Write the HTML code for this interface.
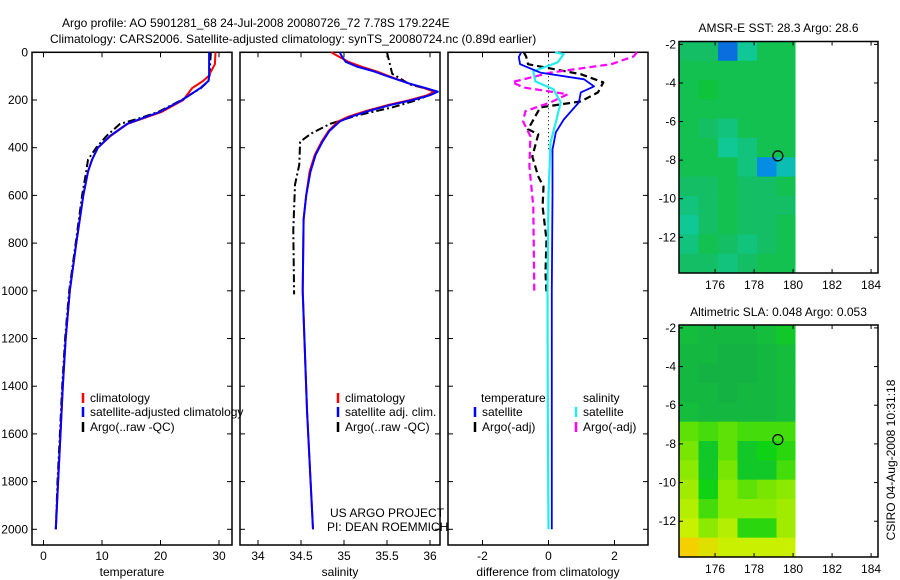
<!DOCTYPE html>
<html><head><meta charset="utf-8"><style>
body{margin:0;background:#fff;}
svg{display:block;font-family:"Liberation Sans",sans-serif;font-size:12px;}
</style></head><body>
<svg id="fig" width="900" height="580" viewBox="0 0 900 580">
<text x="62" y="27">Argo profile: AO 5901281_68 24-Jul-2008 20080726_72 7.78S 179.224E</text>
<text x="50" y="43">Climatology: CARS2006. Satellite-adjusted climatology: synTS_20080724.nc (0.89d earlier)</text>
<g id="g1"></g>
<g id="g2"></g>
<g id="g3"></g>
<g id="m1"></g>
<g id="m2"></g>
<text x="330" y="517">US ARGO PROJECT</text>
<text x="327" y="531">PI: DEAN ROEMMICH</text>
<text transform="translate(895,460) rotate(-90)" text-anchor="middle">CSIRO 04-Aug-2008 10:31:18</text>
</svg>
<script>
// ---- data ----
const depthT = [0,50,100,120,150,200,250,280,300,350,400,450,500,600,800,1000,1200,1400,1600,1800,2000];
const argoT  = [28.3,28.3,28.3,28.2,26.8,23.7,19.9,16.5,14.3,11.4,9.3,8.3,7.6,6.8,5.6,4.5,3.8,3.3,2.9,2.5,2.1];
const climT  = [29.4,29.3,28.2,27.3,25.4,23.9,20.2,16.7,14.4,11.5,9.3,8.3,7.6,6.8,5.6,4.5,3.8,3.3,2.9,2.5,2.1];
const rawT   = [28.6,28.5,28.4,28.2,26.9,23.6,19.6,16.0,13.1,10.8,9.0,7.6,7.3,6.6,5.5,4.4,3.7,3.2,2.8,2.4,2.1];
const depthS = [0,20,40,60,80,100,130,150,165,180,200,220,248,270,290,330,375,430,500,600,700,1000,1500,2000];
const argoS  = [34.95,34.98,35.02,35.15,35.35,35.5,35.75,35.95,36.09,36.0,35.8,35.55,35.27,35.08,34.95,34.83,34.75,34.67,34.61,34.56,34.53,34.52,34.57,34.64];
const climS  = [34.85,34.95,35.05,35.2,35.38,35.52,35.75,35.93,36.05,35.97,35.77,35.52,35.24,35.05,34.93,34.82,34.74,34.66,34.6,34.56,34.53,34.52,34.57,34.64];
const depthRawS = [0,90,135,165,200,230,265,300,340,375,470,555,745,1015];
const rawS   = [35.5,35.56,35.77,36.09,35.85,35.57,35.15,34.84,34.62,34.49,34.48,34.43,34.41,34.42];
const depthDT = [0,20,50,85,113,143,168,210,282,336,408,600,1000,1500,2000];
const satDT   = [-0.83,-0.9,-0.86,-0.25,1.08,1.38,0.98,0.92,0.46,0.22,0.12,0.12,0.1,0.1,0.1];
const depthDS = [0,8,42,80,122,155,210,294,378,600,1000,1500,2000];
const satDS   = [0.2,0.46,0.28,-0.46,-0.4,0.15,0.37,0.22,0.06,0.0,-0.03,-0.02,0.0];
const depthAS = [0,17,50,85,125,147,176,210,247,290,352,478,647,1004];
const argoDS  = [2.68,2.58,1.9,0.06,-1.1,-0.77,0.58,0.06,-0.7,-0.77,-0.55,-0.58,-0.46,-0.43];
const depthAT = [0,17,50,92,126,168,206,231,323,344,437,521,563,647,786,924,1008];
const argoDT  = [-0.75,-0.68,-0.62,0.98,1.66,1.5,0.98,-0.25,-0.62,-0.31,-0.49,-0.31,-0.15,-0.18,-0.06,-0.09,-0.06];
const depthTicks = [0,200,400,600,800,1000,1200,1400,1600,1800,2000];
const tTicks = [0,10,20,30];
const sTicks = [34,34.5,35,35.5,36];
const dTicks = [-2,0,2];
const sstGrid = [
 [28.4,28.4,27.7,28.2,28.5,28.5],
 [28.5,28.5,28.5,28.5,28.5,28.5],
 [28.5,28.6,28.5,28.5,28.5,28.5],
 [28.5,28.5,28.5,28.5,28.5,28.5],
 [28.5,28.4,28.3,28.5,28.5,28.5],
 [28.5,28.5,28.2,28.3,28.5,28.5],
 [28.5,28.5,28.5,28.3,27.8,28.1],
 [28.4,28.4,28.5,28.4,28.4,28.5],
 [28.3,28.4,28.5,28.4,28.4,28.4],
 [28.2,28.4,28.5,28.4,28.4,28.5],
 [28.3,28.5,28.4,28.3,28.4,28.5],
 [28.4,28.4,28.3,28.4,28.5,28.5]];
const slaGrid = [
 [0.03,0.02,0.02,0.02,0.03,0.04],
 [0.02,0.02,0.01,0.01,0.02,0.03],
 [0.02,0.01,0.01,0.01,0.02,0.03],
 [0.02,0.02,0.01,0.02,0.02,0.03],
 [0.03,0.02,0.02,0.02,0.02,0.03],
 [0.08,0.07,0.08,0.07,0.07,0.07],
 [0.09,0.04,0.08,0.04,0.05,0.06],
 [0.1,0.04,0.09,0.04,0.04,0.07],
 [0.11,0.05,0.1,0.08,0.09,0.1],
 [0.12,0.07,0.1,0.1,0.1,0.11],
 [0.13,0.1,0.12,0.06,0.06,0.11],
 [0.17,0.15,0.13,0.13,0.13,0.13]];
const lonTicks = [176,178,180,182,184];
const latTicks = [-2,-4,-6,-8,-10,-12];
const argoLon = 179.22, argoLat = -7.78;

const NS='http://www.w3.org/2000/svg';
function mk(tag, parent, attrs){const e=document.createElementNS(NS,tag);for(const k in attrs)e.setAttribute(k,attrs[k]);parent.appendChild(e);return e;}
const top0=52.3, ppm=0.2385, bot=545;
const yD = d => top0 + d*ppm;

function panel(g, x0, x1, xf, ticks, fmt, title, showY){
  const r=mk('rect',g,{x:x0,y:top0,width:x1-x0,height:bot-top0,fill:'none',stroke:'#000','stroke-width':1.5});
  
  
  ticks.forEach(t=>{const x=xf(t);
    mk('line',g,{x1:x,x2:x,y1:bot,y2:bot-5,stroke:'#000'});
    mk('line',g,{x1:x,x2:x,y1:top0,y2:top0+5,stroke:'#000'});
    const tx=mk('text',g,{x:x,y:560,'text-anchor':'middle'});tx.textContent=fmt(t);
    
    
  });
  depthTicks.forEach(d=>{const y=yD(d);
    mk('line',g,{x1:x0,x2:x0+5,y1:y,y2:y,stroke:'#000'});
    mk('line',g,{x1:x1,x2:x1-5,y1:y,y2:y,stroke:'#000'});
    if(showY){const t=mk('text',g,{x:28,y:y+4,'text-anchor':'end'});t.textContent=d;
      
      }
  });
  const tt=mk('text',g,{x:(x0+x1)/2,y:576,'text-anchor':'middle'});tt.textContent=title;
  
  
}
function line(g, depths, vals, xf, color, dash, w, name){
  const pts=depths.map((d,i)=>xf(vals[i]).toFixed(1)+','+yD(d).toFixed(1)).join(' ');
  const p=mk('polyline',g,{points:pts,fill:'none',stroke:color,'stroke-width':w||2,'stroke-dasharray':dash||'none','stroke-linejoin':'round'});
  
  
}
function legend(g,x,y,color,label){
  mk('line',g,{x1:x,x2:x,y1:y-9,y2:y+1,stroke:color,'stroke-width':2.5});
  const t=mk('text',g,{x:x+7,y:y});t.textContent=label;
  
  
}
const g1=document.getElementById('g1');
const xT=v=>43.5+v*5.85;
panel(g1,32,232,xT,tTicks,String,'temperature',true);
line(g1,depthT,rawT,xT,'#000','8,3,2,3',2,'argo-raw-temperature-line');
line(g1,depthT,climT,xT,'#f00',null,2,'climatology-temperature-line');
line(g1,depthT,argoT,xT,'#00f',null,2,'satellite-temperature-line');
legend(g1,83,402,'#f00','climatology');
legend(g1,83,416,'#00f','satellite-adjusted climatology');
legend(g1,83,431,'#000','Argo(..raw -QC)');
const g2=document.getElementById('g2');
const xS=v=>258+(v-34)*86;
panel(g2,240,440,xS,sTicks,String,'salinity',false);
line(g2,depthRawS,rawS,xS,'#000','8,3,2,3',2,'argo-raw-salinity-line');
line(g2,depthS,climS,xS,'#f00',null,2,'climatology-salinity-line');
line(g2,depthS,argoS,xS,'#00f',null,2,'satellite-salinity-line');
legend(g2,338,402,'#f00','climatology');
legend(g2,338,416,'#00f','satellite adj. clim.');
legend(g2,338,431,'#000','Argo(..raw -QC)');
const g3=document.getElementById('g3');
const xDf=v=>548.5+v*33;
panel(g3,448,648,xDf,dTicks,String,'difference from climatology',false);
mk('line',g3,{x1:548.5,x2:548.5,y1:top0,y2:150,stroke:'#000','stroke-dasharray':'1,3'});
line(g3,depthAT,argoDT,xDf,'#000','7,4',2.2,'argo-temperature-diff-line');
line(g3,depthAS,argoDS,xDf,'#f0f','7,4',2.2,'argo-salinity-diff-line');
line(g3,depthDS,satDS,xDf,'#2ee','none',2.2,'satellite-salinity-diff-line');
line(g3,depthDT,satDT,xDf,'#00f','none',1.8,'satellite-temperature-diff-line');
const lt=mk('text',g3,{x:481,y:402});lt.textContent='temperature';


const ls=mk('text',g3,{x:583,y:402});ls.textContent='salinity';


legend(g3,475,416,'#00f','satellite');
legend(g3,475,431,'#000','Argo(-adj)');
legend(g3,576,416,'#2ee','satellite');
legend(g3,576,431,'#f0f','Argo(-adj)');

function lerpColor(stops,v){
  if(v<=stops[0][0])return stops[0][1];
  for(let i=1;i<stops.length;i++){if(v<=stops[i][0]){const a=stops[i-1],b=stops[i],f=(v-a[0])/(b[0]-a[0]);
    return [0,1,2].map(k=>Math.round(a[1][k]+(b[1][k]-a[1][k])*f));}}
  return stops[stops.length-1][1];
}
function col(stops,v){const c=lerpColor(stops,v);return 'rgb('+c.join(',')+')';}
const sstStops=[[27.6,[16,80,220]],[27.9,[0,170,230]],[28.2,[16,200,150]],[28.4,[20,190,100]],[28.6,[16,195,60]]];
const slaStops=[[0.0,[20,170,70]],[0.03,[20,190,60]],[0.05,[16,210,20]],[0.09,[120,230,0]],[0.13,[200,240,0]],[0.18,[255,200,0]]];
function map(g,mTop,mBot,grid,stops,title,ytop){
  const xL=679,xR=878, lon0=174.15, lonPx=19.5;
  const latPx=(mBot-mTop)/12.0;
  const xLon=l=>xL+(l-lon0)*lonPx;
  const yLat=la=>mTop+(-1.85-la)*latPx;
  grid.forEach((row,r)=>row.forEach((v,c)=>{
    const x=xLon(lon0+c), x2=Math.min(xLon(lon0+c+1),xLon(180.1));
    const cell=mk('rect',g,{x:x,y:yLat(-1.85-r),width:x2-x+0.5,height:latPx+0.5,fill:col(stops,v)});
    
    
  }));
  const fr=mk('rect',g,{x:xL,y:mTop,width:xR-xL,height:mBot-mTop,fill:'none',stroke:'#000','stroke-width':1.5});
  
  
  lonTicks.forEach(l=>{const x=xLon(l);
    mk('line',g,{x1:x,x2:x,y1:mBot,y2:mBot-4,stroke:'#000'});
    mk('line',g,{x1:x,x2:x,y1:mTop,y2:mTop+4,stroke:'#000'});
    const t=mk('text',g,{x:x,y:mBot+16,'text-anchor':'middle'});t.textContent=l;
    
    });
  latTicks.forEach(la=>{const y=yLat(la);
    mk('line',g,{x1:xL,x2:xL+4,y1:y,y2:y,stroke:'#000'});
    mk('line',g,{x1:xR,x2:xR-4,y1:y,y2:y,stroke:'#000'});
    const t=mk('text',g,{x:676,y:y+4,'text-anchor':'end'});t.textContent=la;
    
    });
  const c=mk('circle',g,{cx:xLon(argoLon),cy:yLat(argoLat),r:5,fill:'none',stroke:'#000','stroke-width':1.2});
  
  
  const tt=mk('text',g,{x:(xL+xR)/2,y:ytop,'text-anchor':'middle'});tt.textContent=title;
  
  
}
map(document.getElementById('m1'),41.5,273,sstGrid,sstStops,'AMSR-E SST: 28.3 Argo: 28.6',32);
map(document.getElementById('m2'),325,557,slaGrid,slaStops,'Altimetric SLA: 0.048 Argo: 0.053',316);
</script>
</body></html>
